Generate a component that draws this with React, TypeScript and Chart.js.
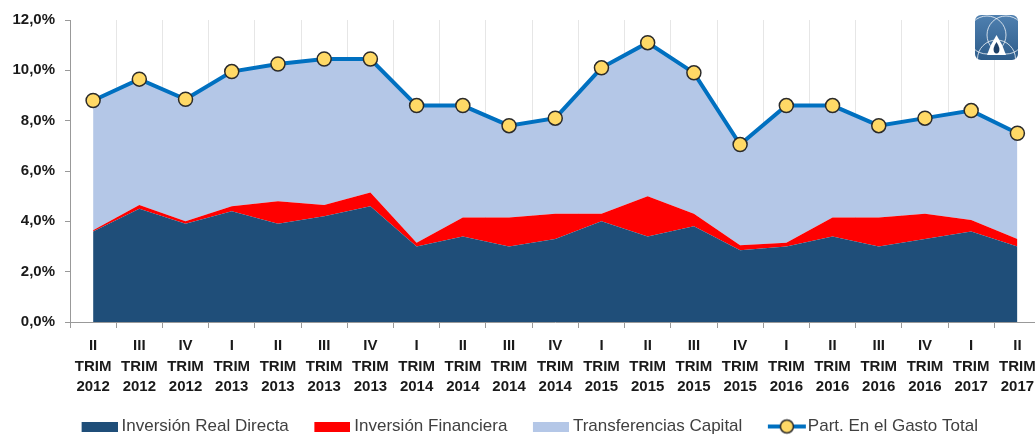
import React, { useEffect, useRef } from 'react';
import { Chart, registerables } from 'chart.js';

Chart.register(...registerables);

const quarters = ['II', 'III', 'IV', 'I', 'II', 'III', 'IV', 'I', 'II', 'III', 'IV', 'I', 'II', 'III', 'IV', 'I', 'II', 'III', 'IV', 'I', 'II'];
const years = ['2012', '2012', '2012', '2013', '2013', '2013', '2013', '2014', '2014', '2014', '2014', '2015', '2015', '2015', '2015', '2016', '2016', '2016', '2016', '2017', '2017'];

const inversionRealDirecta = [3.6, 4.5, 3.9, 4.4, 3.9, 4.2, 4.6, 3.0, 3.4, 3.0, 3.3, 4.0, 3.4, 3.8, 2.85, 3.0, 3.4, 3.0, 3.3, 3.6, 3.0];
const inversionFinanciera = [0.05, 0.15, 0.1, 0.2, 0.9, 0.45, 0.55, 0.15, 0.75, 1.15, 1.0, 0.3, 1.6, 0.5, 0.2, 0.15, 0.75, 1.15, 1.0, 0.45, 0.3];
const transferenciasCapital = [5.15, 5.0, 4.85, 5.35, 5.45, 5.8, 5.3, 5.45, 4.45, 3.65, 3.8, 5.8, 6.1, 5.6, 4.0, 5.45, 4.45, 3.65, 3.8, 4.35, 4.2];
const partGastoTotal = [8.8, 9.65, 8.85, 9.95, 10.25, 10.45, 10.45, 8.6, 8.6, 7.8, 8.1, 10.1, 11.1, 9.9, 7.05, 8.6, 8.6, 7.8, 8.1, 8.4, 7.5];

const seriesNames = ['Inversión Real Directa', 'Inversión Financiera', 'Transferencias Capital', 'Part. En el Gasto Total'];

const DARK = '#1F4E79';
const RED = '#FF0000';
const LIGHT = '#B4C7E7';
const LINE = '#0070C0';
const DOT = '#FFD966';

// legend swatch: transparent lead-in so the coloured box sits right before the text
function makeBox(color: string) {
  const c = document.createElement('canvas');
  c.width = 56;
  c.height = 10;
  const ctx = c.getContext('2d')!;
  ctx.fillStyle = color;
  ctx.fillRect(20, 0, 36, 10);
  return c;
}

function makeLineMarker() {
  const c = document.createElement('canvas');
  c.width = 62;
  c.height = 18;
  const ctx = c.getContext('2d')!;
  ctx.strokeStyle = LINE;
  ctx.lineWidth = 4;
  ctx.beginPath();
  ctx.moveTo(23, 9);
  ctx.lineTo(61, 9);
  ctx.stroke();
  ctx.beginPath();
  ctx.arc(42, 9, 6.5, 0, Math.PI * 2);
  ctx.fillStyle = DOT;
  ctx.fill();
  ctx.lineWidth = 1.5;
  ctx.strokeStyle = '#2b2b2b';
  ctx.stroke();
  return c;
}

const logoPlugin = {
  id: 'logo',
  afterDraw(chart: any) {
    const ctx = chart.ctx as CanvasRenderingContext2D;
    const x = 975, y = 15, w = 43, h = 45;
    ctx.save();
    const g = ctx.createLinearGradient(x, y, x, y + h);
    g.addColorStop(0, '#4f80b0');
    g.addColorStop(1, '#2d5c8a');
    ctx.beginPath();
    (ctx as any).roundRect(x, y, w, h, 6);
    ctx.fillStyle = g;
    ctx.fill();
    ctx.clip();
    ctx.strokeStyle = 'rgba(255,255,255,0.75)';
    ctx.lineWidth = 1;
    ctx.beginPath();
    ctx.arc(x + 12, y + 20, 19, 0, Math.PI * 2);
    ctx.stroke();
    ctx.beginPath();
    ctx.arc(x + 31, y + 20, 19, 0, Math.PI * 2);
    ctx.stroke();
    ctx.beginPath();
    ctx.arc(x + 21.5, y + 44, 19, 0, Math.PI * 2);
    ctx.stroke();
    ctx.fillStyle = '#ffffff';
    ctx.beginPath();
    ctx.moveTo(x + 21.5, y + 20);
    ctx.quadraticCurveTo(x + 28, y + 30, x + 31, y + 40);
    ctx.lineTo(x + 12, y + 40);
    ctx.quadraticCurveTo(x + 15, y + 30, x + 21.5, y + 20);
    ctx.fill();
    ctx.fillStyle = '#1d3f66';
    ctx.beginPath();
    ctx.moveTo(x + 21.5, y + 27);
    ctx.quadraticCurveTo(x + 25.5, y + 33, x + 24, y + 37);
    ctx.quadraticCurveTo(x + 21.5, y + 40, x + 19, y + 37);
    ctx.quadraticCurveTo(x + 17.5, y + 33, x + 21.5, y + 27);
    ctx.fill();
    ctx.restore();
  },
};

export default function App() {
  const canvasRef = useRef<HTMLCanvasElement | null>(null);

  useEffect(() => {
    if (!canvasRef.current) return;
    const labels = quarters.map((q, i) => [q, 'TRIM', years[i]]);
    const legendImages = [makeBox(DARK), makeBox(RED), makeBox(LIGHT), makeLineMarker()];

    const chart = new Chart(canvasRef.current, {
      type: 'line',
      data: {
        labels,
        datasets: [
          {
            label: seriesNames[0],
            data: inversionRealDirecta,
            backgroundColor: DARK,
            borderColor: DARK,
            borderWidth: 0,
            pointRadius: 0,
            fill: 'origin',
            stack: 'areas',
            order: 1,
            tension: 0,
          },
          {
            label: seriesNames[1],
            data: inversionFinanciera,
            backgroundColor: RED,
            borderColor: RED,
            borderWidth: 0,
            pointRadius: 0,
            fill: '-1',
            stack: 'areas',
            order: 1,
            tension: 0,
          },
          {
            label: seriesNames[2],
            data: transferenciasCapital,
            backgroundColor: LIGHT,
            borderColor: LIGHT,
            borderWidth: 0,
            pointRadius: 0,
            fill: '-1',
            stack: 'areas',
            order: 1,
            tension: 0,
          },
          {
            label: seriesNames[3],
            data: partGastoTotal,
            borderColor: LINE,
            backgroundColor: DOT,
            borderWidth: 4,
            pointRadius: 7,
            pointBackgroundColor: DOT,
            pointBorderColor: '#2b2b2b',
            pointBorderWidth: 1.5,
            fill: false,
            stack: 'total',
            order: 0,
            tension: 0,
          },
        ],
      },
      options: {
        responsive: true,
        maintainAspectRatio: false,
        animation: false,
        events: [],
        layout: { padding: { top: 20, right: 5, left: 0, bottom: 0 } },
        plugins: {
          tooltip: { enabled: false },
          legend: {
            position: 'bottom',
            labels: {
              usePointStyle: true,
              pointStyleWidth: 47,
              padding: 10,
              color: '#404040',
              font: { family: '"Liberation Sans", Arial, sans-serif', size: 17 },
              sort: (a: any, b: any) => a.datasetIndex - b.datasetIndex,
              generateLabels: (ch: any) => {
                const items = (Chart as any).defaults.plugins.legend.labels.generateLabels(ch);
                return items.map((it: any) => ({ ...it, pointStyle: legendImages[it.datasetIndex] }));
              },
            },
          },
        },
        scales: {
          x: {
            offset: true,
            grid: {
              offset: true,
              color: '#e6e6e6',
              tickColor: '#999999',
              tickLength: 6,
              drawOnChartArea: true,
            },
            border: { color: '#999999', width: 1 },
            ticks: {
              autoSkip: false,
              maxRotation: 0,
              minRotation: 0,
              padding: 8,
              color: '#1a1a1a',
              font: { family: '"Liberation Sans", Arial, sans-serif', size: 15, weight: 'bold', lineHeight: 1.35 },
            },
            afterFit: (s: any) => {
              s.height = 86;
            },
          },
          y: {
            stacked: true,
            min: 0,
            max: 12,
            ticks: {
              stepSize: 2,
              padding: 10,
              color: '#1a1a1a',
              font: { family: '"Liberation Sans", Arial, sans-serif', size: 15, weight: 'bold' },
              callback: (v: any) => Number(v).toFixed(1).replace('.', ',') + '%',
            },
            grid: { drawOnChartArea: false, color: '#999999', tickLength: 5 },
            border: { color: '#999999', width: 1 },
            afterFit: (s: any) => {
              s.width = 70;
            },
          },
        },
      },
      plugins: [logoPlugin],
    } as any);

    return () => chart.destroy();
  }, []);

  return (
    <div style={{ position: 'absolute', left: 0, top: 0, width: 1035, height: 436, overflow: 'hidden', background: '#fff' }}>
      <div style={{ position: 'relative', width: 1049, height: 445 }}>
        <canvas ref={canvasRef} />
      </div>
    </div>
  );
}
